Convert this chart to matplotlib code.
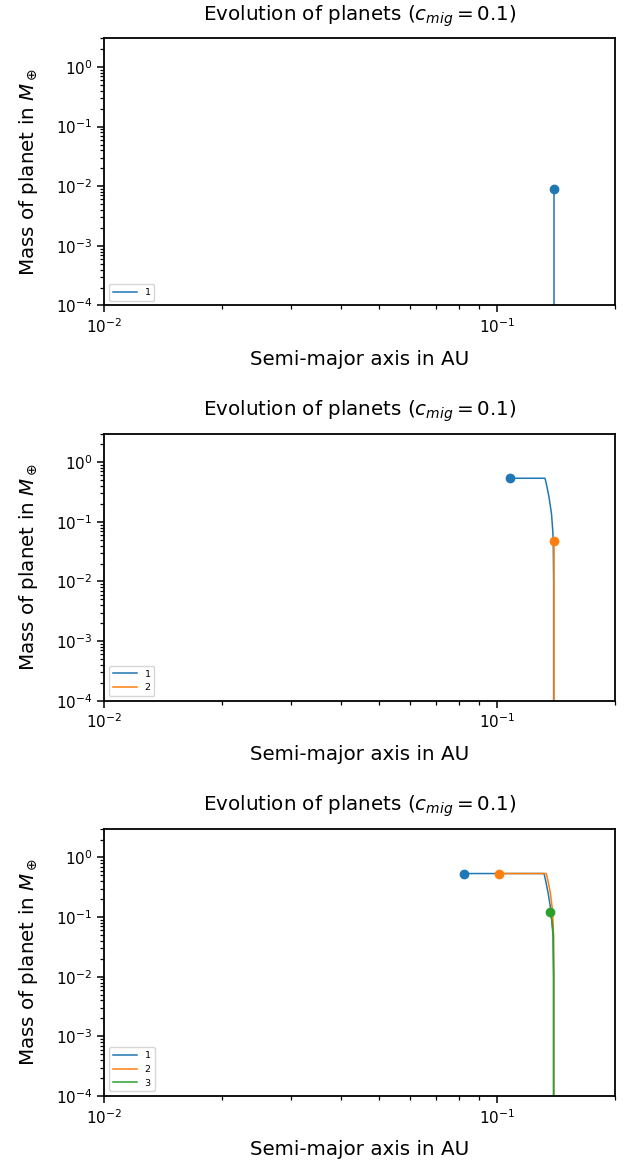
import matplotlib.pyplot as plt

# Track of each planet (semi-major axis in AU, mass in Earth masses)
# Panel 1: one planet, still growing in place
p1_a = [0.1395, 0.1395]
p1_m = [1e-4, 0.0089]

# Panel 2: planet 1 finished and migrated, planet 2 growing
p2_a1 = [0.1395, 0.1395, 0.1392, 0.1388, 0.1378, 0.1358, 0.1340, 0.1330, 0.1325, 0.108]
p2_m1 = [1e-4, 0.01, 0.047, 0.070, 0.134, 0.258, 0.40, 0.50, 0.538, 0.538]
p2_a2 = [0.1395, 0.1395]
p2_m2 = [1e-4, 0.047]

# Panel 3: planets 1 and 2 migrated, planet 3 growing
p3_a1 = [0.1395, 0.1395, 0.1390, 0.1384, 0.1372, 0.1350, 0.1332, 0.1322, 0.1318, 0.0824]
p3_m1 = [1e-4, 0.01, 0.047, 0.070, 0.134, 0.258, 0.40, 0.50, 0.538, 0.538]
p3_a2 = [0.1395, 0.1395, 0.1394, 0.1392, 0.1385, 0.1368, 0.1350, 0.1340, 0.1335, 0.101]
p3_m2 = [1e-4, 0.01, 0.047, 0.070, 0.134, 0.258, 0.40, 0.50, 0.538, 0.538]
p3_a3 = [0.1395, 0.1395, 0.1393, 0.1380, 0.1366]
p3_m3 = [1e-4, 0.01, 0.05, 0.09, 0.12]

panels = [
    [(p1_a, p1_m)],
    [(p2_a1, p2_m1), (p2_a2, p2_m2)],
    [(p3_a1, p3_m1), (p3_a2, p3_m2), (p3_a3, p3_m3)],
]

colors = ["#1f77b4", "#ff7f0e", "#2ca02c"]

fig = plt.figure(figsize=(6.27, 11.66), dpi=100)

# axes boxes in figure fractions [left, bottom, width, height]
boxes = [
    [0.166, 0.738, 0.815, 0.229],
    [0.166, 0.399, 0.815, 0.229],
    [0.166, 0.060, 0.815, 0.229],
]

for box, tracks in zip(boxes, panels):
    ax = fig.add_axes(box)
    for i, (a, m) in enumerate(tracks):
        ax.plot(a, m, color=colors[i], lw=1.1, label=str(i + 1))
    for i, (a, m) in enumerate(tracks):
        ax.plot(a[-1], m[-1], "o", color=colors[i], ms=6)
    ax.set_xscale("log")
    ax.set_yscale("log")
    ax.set_xlim(0.01, 0.2)
    ax.set_ylim(1e-4, 3)
    ax.set_title(r"Evolution of planets ($c_{mig} = 0.1$)", fontsize=14.3, pad=13)
    ax.set_xlabel("Semi-major axis in AU", fontsize=14.3, labelpad=10)
    ax.set_ylabel(r"Mass of planet in $M_\oplus$", fontsize=14.3, labelpad=11)
    ax.tick_params(which="major", labelsize=11, length=5, width=1.1)
    ax.tick_params(which="minor", length=2.8, width=0.9)
    for s in ax.spines.values():
        s.set_linewidth(1.3)
    ax.legend(loc="lower left", fontsize=6.8, handlelength=2.6)

fig.savefig("out.png", dpi=100)
